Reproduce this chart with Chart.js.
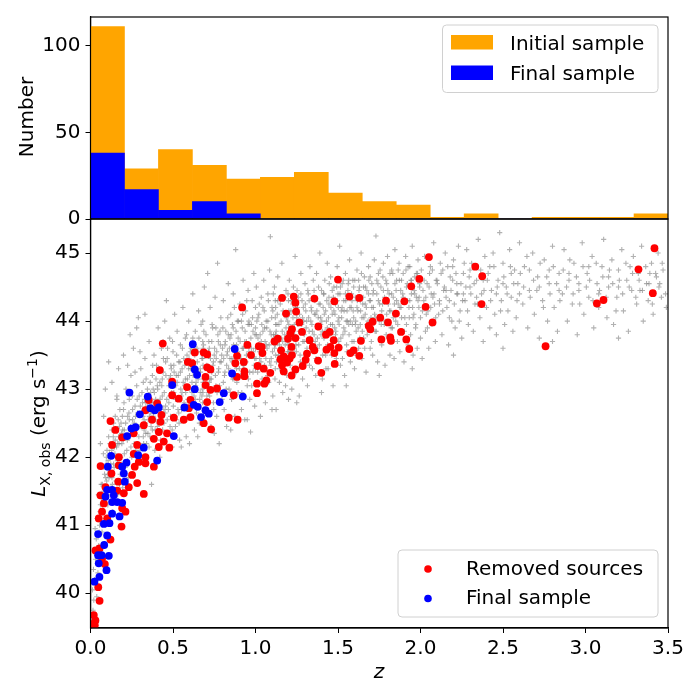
<!DOCTYPE html>
<html><head><meta charset="utf-8">
<script src="https://cdn.jsdelivr.net/npm/chart.js@4/dist/chart.umd.min.js"></script>
<style>
html,body{margin:0;padding:0;background:#fff;}
#wrap{position:relative;width:700px;height:700px;}
canvas{position:absolute;left:0;top:0;}
</style></head><body>
<div id="wrap"><canvas id="top" width="700" height="700"></canvas><canvas id="bot" width="700" height="700"></canvas></div>
<script>
// ---------- DATA ----------
const binLabels = ["0.10","0.31","0.51","0.72","0.93","1.13","1.34","1.54","1.75","1.96","2.16","2.37","2.57","2.78","2.99","3.19","3.40"];
const initialCounts = [111,29,40,31,23,24,27,15,10,8,1,3,0,1,1,1,3];
const finalCounts = [38,17,5,10,3,0,0,0,0,0,0,0,0,0,0,0,0];
const histTicks = [0,50,100];
const xTicks = [0,0.5,1,1.5,2,2.5,3,3.5];
const xTickLabels = ["0.0","0.5","1.0","1.5","2.0","2.5","3.0","3.5"];
const yTicks = [40,41,42,43,44,45];
const yTickLabels = ["40","41","42","43","44","45"];

// grey background sample: outer envelope
const allPtsOuter = [
[0.01,39.62],[0.015,39.75],[0.02,39.9],[0.012,40.05],[0.025,40.2],[0.018,40.35],[0.03,40.5],[0.022,40.62],[0.035,40.8],[0.028,40.95],[0.04,41.1],[0.045,40.3],[0.05,40.7],[0.055,41.0],[0.06,41.3],[0.048,41.45],[0.065,41.6],[0.07,40.9],[0.075,41.2],[0.08,41.5],[0.085,41.75],[0.09,41.1],[0.095,41.9],[0.1,42.1],[0.058,40.45],[0.038,39.95],[0.068,41.85],[0.078,42.05],[0.088,41.4],[0.098,41.65],
[0.105,41.3],[0.11,42.3],[0.115,41.8],[0.12,42.0],[0.125,41.55],[0.13,42.4],[0.135,41.2],[0.14,41.9],[0.145,42.15],[0.15,42.6],[0.155,41.65],[0.16,42.85],[0.165,41.45],[0.17,42.3],[0.175,42.0],[0.18,41.75],[0.185,42.5],[0.19,42.2],[0.195,41.55],[0.2,42.7],[0.11,43.4],[0.16,42.9],[0.12,41.05],[0.14,42.5],[0.175,42.45],[0.19,41.9],[0.13,41.7],[0.15,42.25],
[0.205,42.4],[0.21,41.85],[0.215,43.0],[0.22,42.1],[0.225,42.6],[0.23,41.7],[0.235,42.85],[0.24,42.3],[0.245,43.2],[0.25,42.0],[0.255,42.55],[0.26,43.6],[0.265,42.2],[0.27,42.75],[0.275,41.9],[0.28,43.05],[0.285,42.45],[0.29,44.05],[0.295,42.9],[0.3,42.1],[0.305,43.3],[0.31,42.65],[0.315,41.95],[0.32,43.1],[0.325,42.4],[0.33,43.45],[0.335,42.8],[0.34,42.2],[0.345,43.0],[0.35,42.55],[0.225,43.35],[0.27,43.25],[0.3,43.55],[0.32,42.3],
[0.355,43.7],[0.36,42.3],[0.365,42.95],[0.37,41.6],[0.375,43.2],[0.38,42.6],[0.385,43.5],[0.39,42.1],[0.395,42.85],[0.4,43.35],[0.405,42.45],[0.41,43.9],[0.415,42.7],[0.42,43.1],[0.425,42.25],[0.43,43.6],[0.435,42.9],[0.44,43.25],[0.445,42.5],[0.45,44.0],[0.455,42.75],[0.46,44.3],[0.465,43.45],[0.47,42.35],[0.475,43.05],[0.48,43.75],[0.485,42.6],[0.49,43.3],[0.495,42.15],[0.5,43.55],[0.505,42.95],[0.51,44.1],[0.515,42.45],[0.52,43.2],[0.525,43.85],[0.53,42.7],[0.535,43.4],[0.54,42.25],[0.545,43.65],[0.55,42.9],[0.38,43.0],[0.42,42.0],[0.44,43.7],[0.48,42.9],[0.52,42.55],[0.5,43.1],
[0.555,43.3],[0.56,44.2],[0.565,42.55],[0.57,43.05],[0.575,43.75],[0.58,42.3],[0.585,43.5],[0.59,42.85],[0.595,44.0],[0.6,43.2],[0.605,42.6],[0.61,43.6],[0.615,42.95],[0.62,44.4],[0.625,43.4],[0.63,42.4],[0.635,43.85],[0.64,43.1],[0.645,42.75],[0.65,43.55],[0.655,44.15],[0.66,42.5],[0.665,43.3],[0.67,43.95],[0.675,42.9],[0.68,43.45],[0.68,43.7],[0.68,44.0],[0.68,42.8],[0.685,43.15],[0.69,44.5],[0.695,42.65],[0.7,43.8],[0.705,43.35],[0.71,44.7],[0.715,42.95],[0.72,43.6],[0.725,44.2],[0.73,42.45],[0.735,43.25],[0.74,43.9],[0.745,42.8],[0.75,43.5],[0.755,44.35],[0.76,43.05],[0.765,42.6],[0.77,44.85],[0.775,43.7],[0.78,42.2],[0.785,43.4],[0.79,44.05],[0.795,42.95],[0.8,43.6],[0.6,42.2],[0.62,43.75],[0.72,43.1],[0.76,43.9],
[0.805,44.3],[0.81,42.7],[0.815,43.25],[0.82,43.85],[0.825,42.45],[0.83,43.55],[0.835,44.55],[0.84,43.0],[0.845,43.75],[0.85,44.1],[0.855,42.85],[0.86,43.4],[0.865,44.4],[0.87,43.15],[0.875,42.6],[0.88,45.05],[0.885,43.65],[0.89,44.0],[0.895,42.95],[0.9,43.5],[0.905,44.25],[0.91,43.2],[0.915,42.7],[0.92,43.9],[0.925,44.6],[0.93,43.35],[0.935,42.55],[0.94,44.15],[0.945,43.7],[0.95,43.05],[0.955,44.45],[0.96,43.55],[0.965,42.85],[0.97,42.37],[0.975,43.95],[0.98,44.3],[0.985,43.25],[0.99,44.7],[0.995,42.75],[1.0,43.6],[1.0,43.9],[1.0,44.2],[1.0,43.3],[1.005,44.5],[1.01,42.95],[1.015,43.75],[1.02,44.1],[1.025,43.45],[1.03,42.6],[1.035,44.35],[1.04,43.15],[1.045,43.85],[1.05,44.6],[0.86,43.95],[0.92,43.6],[0.96,44.0],
[1.055,43.35],[1.06,42.8],[1.065,44.0],[1.07,43.6],[1.075,44.4],[1.08,43.1],[1.085,44.75],[1.09,45.24],[1.095,43.45],[1.1,44.2],[1.105,42.9],[1.11,43.8],[1.115,44.5],[1.12,43.3],[1.12,43.65],[1.12,44.05],[1.12,44.3],[1.125,42.7],[1.13,43.95],[1.135,44.65],[1.14,43.5],[1.145,43.1],[1.15,44.25],[1.155,43.75],[1.16,44.85],[1.165,42.95],[1.17,43.4],[1.175,44.1],[1.18,43.65],[1.185,44.45],[1.19,43.2],[1.195,44.0],[1.2,43.55],[1.2,43.85],[1.2,44.3],[1.2,42.85],[1.205,44.6],[1.21,43.35],[1.215,44.15],[1.22,43.0],[1.225,43.9],[1.23,44.5],[1.235,43.6],[1.24,44.95],[1.245,43.25],[1.25,44.05],[1.255,43.75],[1.26,44.35],[1.265,42.9],[1.27,43.5],[1.275,44.7],[1.28,43.95],[1.285,43.15],[1.29,44.2],[1.295,43.7],[1.3,44.55],[1.305,43.4],[1.31,44.0],[1.315,43.05],[1.32,44.4],[1.325,43.85],[1.33,44.8],[1.335,43.55],[1.34,44.15],[1.345,43.3],[1.35,44.6],
[1.355,43.8],[1.36,44.3],[1.365,43.2],[1.37,44.7],[1.375,43.6],[1.38,44.05],[1.385,43.4],[1.39,45.0],[1.395,43.95],[1.4,44.45],[1.405,43.15],[1.41,44.2],[1.415,43.75],[1.42,44.6],[1.425,43.5],[1.43,44.0],[1.435,44.85],[1.44,43.3],[1.445,44.35],[1.45,43.85],[1.455,44.65],[1.46,43.6],[1.465,44.1],[1.47,43.05],[1.475,44.5],[1.48,43.9],[1.485,44.25],[1.49,43.45],[1.495,44.8],[1.5,44.0],[1.5,44.4],[1.505,43.7],[1.51,45.1],[1.515,43.35],[1.52,44.15],[1.525,44.55],[1.53,43.8],[1.535,44.3],[1.54,43.2],[1.545,44.7],[1.55,44.0],[1.555,43.55],[1.56,44.45],[1.565,43.95],[1.57,44.9],[1.575,43.4],[1.58,44.2],[1.585,43.7],[1.59,44.6],[1.595,44.05],[1.6,43.3],[1.605,44.35],[1.61,43.85],[1.615,44.75],[1.62,44.15],[1.625,43.6],[1.63,44.5],[1.635,43.95],[1.64,45.0],[1.645,43.45],[1.65,44.25],[1.655,43.75],[1.66,44.65],[1.665,44.1],[1.67,43.25],[1.675,44.45],[1.68,43.9],[1.685,44.8],[1.69,44.3],[1.695,43.6],[1.7,44.05],
[1.705,44.55],[1.71,43.5],[1.715,44.2],[1.72,44.9],[1.725,43.85],[1.73,45.25],[1.735,44.4],[1.74,43.4],[1.745,44.7],[1.75,44.0],[1.76,44.5],[1.765,43.65],[1.77,44.25],[1.775,44.85],[1.78,43.95],[1.785,43.35],[1.79,44.6],[1.795,44.1],[1.8,44.95],[1.805,43.75],[1.81,44.4],[1.815,43.5],[1.82,44.15],[1.825,44.75],[1.83,43.9],[1.835,44.35],[1.84,43.45],[1.845,45.05],[1.85,44.0],[1.855,44.6],[1.86,43.7],[1.865,44.25],[1.87,44.85],[1.875,43.55],[1.88,44.45],[1.885,44.05],[1.89,43.85],[1.895,44.7],[1.9,43.4],[1.905,44.3],[1.91,44.95],[1.915,43.95],[1.92,44.55],[1.925,43.65],[1.93,44.2],[1.935,44.8],[1.94,43.8],[1.945,44.4],[1.95,45.1],[1.955,43.5],[1.96,44.1],[1.965,44.65],[1.97,43.9],[1.975,44.35],[1.98,43.6],[1.985,44.9],[1.99,44.2],[1.995,44.5],[2.0,43.75],[2.0,44.05],[2.005,44.75],[2.01,43.45],[2.02,44.3],[2.025,44.95],[2.03,43.85],[2.04,44.55],[2.045,44.15],[2.05,43.6],[2.06,44.8],[2.065,44.4],[2.07,43.95],[2.08,45.15],[2.085,44.25],[2.09,43.7],[2.1,44.6],
[2.11,44.1],[2.12,44.85],[2.13,43.8],[2.14,44.45],[2.15,45.0],[2.16,44.2],[2.17,43.65],[2.18,44.65],[2.19,44.0],[2.2,44.9],[2.21,43.9],[2.22,44.4],[2.23,45.1],[2.24,44.15],[2.25,43.75],[2.26,44.7],[2.27,44.3],[2.28,45.05],[2.29,43.95],[2.3,44.5],[2.31,44.85],[2.32,43.85],[2.33,44.25],[2.34,44.6],[2.35,45.2],[2.36,44.05],[2.37,44.4],[2.38,43.7],[2.39,44.95],[2.4,44.2],[2.41,44.7],[2.42,43.9],[2.43,44.45],[2.44,45.0],[2.45,44.1],[2.46,43.8],[2.47,44.6],[2.48,45.3],[2.49,44.3],[2.5,44.85],[2.51,43.95],[2.52,44.5],[2.53,44.15],[2.54,45.05],[2.55,44.35],[2.56,43.85],[2.57,44.75],[2.58,44.05],[2.59,44.55],[2.6,45.15],
[2.62,44.25],[2.63,44.8],[2.65,43.9],[2.66,44.45],[2.68,45.0],[2.69,44.1],[2.71,44.65],[2.72,43.75],[2.74,44.3],[2.75,44.9],[2.77,44.0],[2.78,44.55],[2.8,45.1],[2.81,44.2],[2.83,43.85],[2.84,44.7],[2.86,44.4],[2.87,45.05],[2.89,44.0],[2.9,44.6],[2.92,44.25],[2.93,44.85],[2.95,43.8],[2.96,44.45],[2.98,45.15],[2.99,44.1],[3.01,44.7],[3.02,44.35],[3.04,44.95],[3.05,43.9],[3.07,44.55],[3.08,44.2],[3.1,44.8],[3.11,45.2],[3.13,44.05],[3.14,44.5],[3.16,44.9],[3.17,43.95],[3.19,44.35],[3.2,44.75],[3.22,45.05],[3.23,44.15],[3.25,44.6],[3.26,43.85],[3.28,44.45],[3.29,44.95],[3.31,44.25],[3.32,44.7],[3.34,45.1],[3.35,44.0],[3.37,44.55],[3.38,44.3],[3.4,44.85],[3.41,44.1],[3.43,44.65],[3.44,45.0],[3.46,44.35],[3.47,44.75],[3.49,44.2],
[0.06,42.2],[0.08,42.6],[0.09,43.0],[0.13,43.1],[0.17,43.3],[0.2,43.5],[0.24,43.8],[0.28,43.9],[0.33,44.1],[0.55,42.15],[0.65,42.3],[0.75,42.35],[0.85,42.4],[0.95,42.55],[1.1,42.7],[1.25,42.8],[1.4,42.95],[1.55,43.05],[1.75,43.2],[1.95,43.3],[2.2,43.5],[2.5,43.6],[2.8,43.7],[3.2,43.75]
];
// grey background sample: dense core of the cloud
const allPtsCore = [
[0.052,40.9],[0.058,41.2],[0.063,41.05],[0.067,41.4],[0.072,41.6],[0.076,41.3],[0.081,41.85],[0.086,41.55],[0.092,41.7],[0.096,42.0],[0.102,41.45],[0.107,41.95],[0.112,41.7],[0.118,42.2],[0.123,41.9],[0.128,42.1],[0.133,41.6],[0.138,42.3],[0.143,41.85],[0.148,42.05],[0.153,42.4],[0.158,42.15],[0.163,41.95],[0.168,42.55],[0.173,42.2],[0.178,42.7],[0.183,42.0],[0.188,42.35],[0.193,42.6],[0.198,42.25],[0.203,42.8],[0.213,42.5],[0.223,42.25],[0.233,42.65],[0.243,42.45],[0.253,42.9],[0.263,42.35],[0.273,42.6],[0.283,42.85],[0.293,42.3],
[0.302,42.75],[0.307,42.45],[0.312,42.95],[0.318,42.6],[0.322,42.2],[0.327,42.85],[0.332,42.5],[0.337,43.15],[0.342,42.7],[0.348,42.35],[0.352,42.9],[0.357,42.6],[0.362,43.1],[0.367,42.45],[0.372,42.8],[0.377,43.35],[0.382,42.65],[0.387,42.95],[0.392,42.4],[0.397,43.15],[0.402,42.75],[0.407,43.0],[0.412,42.5],[0.417,43.3],[0.422,42.85],[0.427,42.6],[0.432,43.05],[0.437,42.4],[0.442,43.45],[0.447,42.95],[0.452,42.65],[0.457,43.2],[0.462,42.85],[0.467,43.6],[0.472,42.7],[0.477,43.15],[0.482,42.45],[0.487,43.35],[0.492,42.95],[0.497,43.7],[0.502,42.75],[0.507,43.25],[0.512,42.6],[0.517,43.05],[0.522,43.5],[0.527,42.85],[0.532,43.2],[0.537,42.5],[0.542,43.4],[0.547,43.0],[0.552,42.7],[0.557,43.6],[0.562,43.1],[0.567,42.8],[0.572,43.35],[0.577,42.95],[0.582,43.8],[0.587,43.15],[0.592,42.6],[0.597,43.45],[0.602,43.0],[0.607,43.3],[0.612,42.75],[0.617,43.65],[0.622,43.2],[0.627,42.9],[0.632,43.5],[0.637,43.05],[0.642,42.65],[0.647,43.4],[0.652,43.15],[0.657,43.75],[0.662,42.85],[0.667,43.25],[0.672,43.55],[0.677,43.0],[0.682,43.35],[0.682,43.1],[0.682,43.6],[0.682,42.95],[0.687,43.85],[0.692,43.2],[0.697,42.8],[0.702,43.5],[0.707,43.05],[0.712,43.3],[0.717,43.7],[0.722,42.9],[0.727,43.45],[0.732,43.15],[0.737,43.95],[0.742,43.35],[0.747,42.7],[0.752,43.6],[0.757,43.2],[0.762,43.45],[0.767,42.95],[0.772,43.8],[0.777,43.3],[0.782,43.05],[0.787,43.65],[0.792,43.4],[0.797,42.85],[0.802,43.9],[0.807,43.45],[0.812,43.2],[0.817,43.7],[0.822,43.0],[0.827,43.5],[0.832,44.05],[0.837,43.3],[0.842,43.6],[0.847,42.95],[0.852,43.8],[0.857,43.45],[0.862,43.15],[0.867,43.65],[0.872,44.2],[0.877,43.35],[0.882,43.85],[0.887,43.1],[0.892,43.55],[0.897,44.0],[0.902,43.3],[0.907,43.7],[0.912,43.45],[0.917,42.95],[0.922,44.1],[0.927,43.6],[0.932,43.2],[0.937,43.85],[0.942,43.4],[0.947,44.3],[0.952,43.65],[0.957,43.15],[0.962,43.95],[0.967,43.5],[0.972,43.75],[0.977,43.05],[0.982,44.05],[0.987,43.55],[0.992,43.35],[0.997,43.8],
[1.003,43.45],[1.008,44.0],[1.013,43.25],[1.018,43.65],[1.023,44.25],[1.028,43.8],[1.033,43.4],[1.038,43.95],[1.043,43.6],[1.048,43.1],[1.053,44.15],[1.058,43.7],[1.063,43.45],[1.068,43.9],[1.073,43.2],[1.078,44.3],[1.083,43.65],[1.088,43.85],[1.093,43.35],[1.098,44.05],[1.103,43.55],[1.108,44.4],[1.113,43.75],[1.118,43.15],[1.122,43.95],[1.122,43.5],[1.122,44.2],[1.122,43.8],[1.127,43.4],[1.132,44.1],[1.137,43.7],[1.142,43.95],[1.147,43.3],[1.152,44.35],[1.157,43.6],[1.162,43.85],[1.167,44.15],[1.172,43.5],[1.177,43.8],[1.182,43.05],[1.187,44.05],[1.192,43.7],[1.197,44.4],[1.202,43.95],[1.202,43.65],[1.202,44.15],[1.207,43.45],[1.212,43.85],[1.217,44.3],[1.222,43.6],[1.227,44.05],[1.232,43.3],[1.237,43.8],[1.242,44.2],[1.247,43.55],[1.252,44.45],[1.257,43.95],[1.262,43.65],[1.267,44.1],[1.272,43.4],[1.277,43.85],[1.282,44.3],[1.287,43.7],[1.292,44.0],[1.297,43.45],[1.302,44.25],[1.307,43.9],[1.312,43.6],[1.317,44.45],[1.322,44.05],[1.327,43.35],[1.332,43.75],[1.337,44.2],[1.342,43.95],[1.347,43.55],[1.352,44.35],[1.357,44.1],[1.362,43.7],[1.367,43.45],[1.372,44.15],[1.377,43.9],[1.382,44.5],[1.387,43.65],[1.392,44.25],[1.397,43.8],[1.402,44.0],[1.407,43.5],[1.412,44.4],[1.417,44.1],[1.422,43.85],[1.427,43.3],[1.432,44.3],[1.437,43.65],[1.442,44.05],[1.447,44.55],[1.452,43.8],[1.457,44.2],[1.462,43.5],[1.467,43.95],[1.472,44.35],[1.477,43.7],[1.482,44.1],[1.487,43.85],[1.492,44.5],[1.497,43.6],[1.502,44.2],[1.507,43.95],[1.512,44.4],[1.517,43.75],[1.522,44.05],[1.527,43.45],[1.532,44.6],[1.537,44.15],[1.542,43.85],[1.547,44.3],[1.552,43.65],[1.557,44.0],[1.562,44.55],[1.567,43.8],[1.572,44.2],[1.577,43.55],[1.582,44.4],[1.587,43.95],[1.592,44.15],[1.597,43.7],[1.602,44.6],[1.607,44.0],[1.612,43.5],[1.617,44.3],[1.622,43.9],[1.627,44.45],[1.632,43.75],[1.637,44.15],[1.642,44.7],[1.647,43.85],[1.652,44.35],[1.657,44.05],[1.662,43.6],[1.667,44.5],[1.672,44.2],[1.677,43.8],[1.682,44.0],[1.687,44.6],[1.692,43.95],[1.697,44.3],[1.702,43.7],[1.712,44.4],[1.722,44.1],[1.732,43.85],[1.742,44.55],[1.752,44.25],[1.762,43.95],[1.772,44.65],[1.782,44.35],[1.792,43.8],[1.802,44.45],[1.812,44.15],[1.822,43.9],[1.832,44.7],[1.842,44.25],[1.852,44.45],[1.862,43.95],[1.872,44.6],[1.882,44.2],[1.892,44.4],[1.902,43.85],[1.912,44.75],[1.922,44.3],[1.932,44.05],[1.942,44.6],[1.952,44.2],[1.962,44.45],[1.972,43.95],[1.982,44.7],[1.992,44.35],
[2.012,44.15],[2.022,44.6],[2.032,44.35],[2.042,43.9],[2.052,44.5],[2.062,44.2],[2.072,44.75],[2.082,44.4],[2.092,44.05],[2.102,44.55],[2.115,44.3],[2.125,44.7],[2.135,44.15],[2.145,44.5],[2.155,44.35],[2.165,44.8],[2.175,44.05],[2.185,44.45],[2.195,44.6],[2.205,44.25],[2.215,44.7],[2.225,44.4],[2.235,44.0],[2.245,44.55],[2.255,44.3],[2.265,44.85],[2.275,44.5],[2.285,44.15],[2.295,44.65],[2.305,44.4],[2.325,44.55],[2.345,44.25],[2.365,44.75],[2.385,44.45],[2.405,44.6],[2.425,44.3],[2.445,44.8],[2.465,44.5],[2.485,44.15],[2.505,44.65],[2.525,44.4],[2.545,44.8],[2.565,44.55],[2.585,44.3],[2.605,44.7],[2.625,44.5],[2.645,44.95],[2.665,44.35],[2.685,44.6],[2.705,44.45],[2.725,44.85],[2.745,44.2],[2.765,44.65],[2.785,44.4],[2.805,44.8],[2.825,44.55],[2.845,44.3],[2.865,44.75],[2.885,44.5],[2.905,44.9],[2.925,44.4],[2.945,44.65],[2.965,44.25],[2.985,44.8],[3.005,44.5],[3.025,44.6],[3.045,44.3],[3.065,44.85],[3.085,44.45],[3.105,44.65],[3.125,44.35],[3.145,44.75],[3.165,44.55],[3.185,44.15],[3.205,44.6],[3.225,44.4],[3.245,44.85],[3.265,44.5],[3.285,44.7],[3.305,44.35],[3.325,44.6],[3.345,44.45],[3.365,44.8],[3.385,44.55],[3.405,44.25],[3.425,44.7],[3.445,44.5],[3.465,44.85],[3.485,44.4]
];
// grey background sample: innermost band
const allPtsInner = [
[0.105,41.75],[0.115,42.05],[0.125,41.35],[0.135,42.15],[0.145,41.5],[0.155,42.0],[0.165,42.2],[0.175,41.6],[0.185,41.85],[0.195,42.4],[0.205,42.05],[0.215,42.3],[0.225,41.95],[0.235,42.55],[0.245,42.15],[0.255,42.7],[0.265,42.5],[0.275,42.1],[0.285,42.65],[0.295,42.45],[0.305,42.0],[0.315,42.8],[0.325,42.55],[0.335,42.35],[0.345,42.75],[0.355,42.15],[0.365,42.65],[0.375,42.4],[0.385,42.8],[0.395,42.55],[0.405,43.05],[0.415,42.35],[0.425,42.75],[0.435,43.15],[0.445,42.7],[0.455,43.4],[0.465,42.55],[0.475,42.8],[0.485,43.2],[0.495,42.4],[0.505,43.35],[0.515,42.85],[0.525,43.1],[0.535,42.65],[0.545,43.25],
[0.555,42.95],[0.565,43.45],[0.575,43.15],[0.585,42.75],[0.595,43.3],[0.605,43.55],[0.615,43.1],[0.625,43.35],[0.635,42.85],[0.645,43.6],[0.655,43.25],[0.665,42.95],[0.675,43.45],[0.685,43.65],[0.695,43.3],[0.705,42.9],[0.715,43.55],[0.725,43.15],[0.735,43.7],[0.745,43.4],[0.755,43.0],[0.765,43.55],[0.775,43.25],[0.785,43.85],[0.795,43.5],[0.805,43.1],[0.815,43.65],[0.825,43.35],[0.835,43.8],[0.845,43.45],[0.855,43.2],[0.865,43.9],[0.875,43.55],[0.885,43.3],[0.895,43.75],[0.905,43.45],[0.915,44.0],[0.925,43.35],[0.935,43.7],[0.945,43.5],[0.955,43.95],[0.965,43.25],[0.975,43.6],[0.985,43.85],[0.995,43.45],
[1.005,43.8],[1.015,44.05],[1.025,43.55],[1.035,43.7],[1.045,44.2],[1.055,43.9],[1.065,43.65],[1.075,44.0],[1.085,43.4],[1.095,43.8],[1.105,44.15],[1.115,43.6],[1.125,43.85],[1.135,44.3],[1.145,43.65],[1.155,44.0],[1.165,43.7],[1.175,44.35],[1.185,43.9],[1.195,43.55],[1.205,44.1],[1.215,43.75],[1.225,44.25],[1.235,43.95],[1.245,43.65],[1.255,44.2],[1.265,43.85],[1.275,44.4],[1.285,44.05],[1.295,43.8],[1.305,44.15],[1.315,43.7],[1.325,44.3],[1.335,44.0],[1.345,43.85],[1.355,44.45],[1.365,44.1],[1.375,43.75],[1.385,44.25],[1.395,44.05],[1.405,43.85],[1.415,44.4],[1.425,44.15],[1.435,43.9],[1.445,44.25],[1.455,43.95],[1.465,44.45],[1.475,44.15],[1.485,43.8],[1.495,44.3],
[1.505,44.05],[1.515,44.5],[1.525,44.2],[1.535,43.9],[1.545,44.4],[1.555,44.15],[1.565,44.6],[1.575,44.0],[1.585,44.3],[1.595,44.5],[1.605,43.95],[1.615,44.2],[1.625,44.6],[1.635,44.3],[1.645,44.05],[1.655,44.5],[1.665,44.25],[1.675,43.95],[1.685,44.4],[1.695,44.65],[1.705,44.2],[1.715,44.45],[1.725,44.05],[1.735,44.6],[1.745,44.3],[1.755,44.75],[1.765,44.15],[1.775,44.45],[1.785,44.0],[1.795,44.55],[1.805,44.25],[1.815,44.7],[1.825,44.4],[1.835,44.05],[1.845,44.55],[1.855,44.3],[1.865,44.75],[1.875,44.2],[1.885,44.6],[1.895,44.35],[1.905,44.05],[1.915,44.5],[1.925,44.8],[1.935,44.3],[1.945,44.6],[1.955,44.05],[1.965,44.4],[1.975,44.7],[1.985,44.3],[1.995,44.55],[2.015,44.45],[2.035,44.1],[2.055,44.7],[2.075,44.35],[2.095,44.6],[2.115,44.25],[2.135,44.75],[2.155,44.45],[2.175,44.3],[2.195,44.8],
[2.22,44.55],[2.26,44.4],[2.3,44.75],[2.34,44.35],[2.38,44.6],[2.42,44.8],[2.46,44.4],[2.5,44.55],[2.55,44.7],[2.6,44.4],[2.66,44.75],[2.72,44.5],[2.78,44.75],[2.84,44.45],[2.9,44.7],[2.96,44.55],[3.02,44.8],[3.08,44.4],[3.14,44.65],[3.2,44.5],[3.27,44.8],[3.33,44.45],[3.39,44.7],[3.45,44.55]
];

const removedPts = [
[0.171,41.88],[0.268,41.86],[0.293,41.93],[0.333,41.91],[0.127,41.76],[0.252,41.74],[0.283,41.62],[0.168,41.64],[0.091,41.56],[0.323,41.46],[0.060,41.44],[0.081,41.32],[0.070,41.20],[0.212,41.20],[0.101,41.10],[0.188,40.98],[0.121,40.79],[0.030,40.63],[0.055,40.66],[0.087,40.43],[0.070,40.51],[0.047,40.09],[0.055,39.89],[0.020,39.68],[0.030,39.60],[0.014,39.55],[0.026,39.53],[0.162,41.51],[0.192,41.25],[0.050,41.10],[0.202,41.47],[0.232,41.56],
[0.438,43.67],[0.632,43.54],[0.686,43.54],[0.707,43.51],[0.888,43.49],[0.590,43.40],[0.616,43.38],[0.878,43.38],[0.420,43.28],[0.707,43.32],[0.727,43.29],[0.888,43.18],[0.697,43.18],[0.495,43.11],[0.585,43.03],[0.697,43.06],[0.727,42.99],[0.767,43.01],[0.868,42.91],[0.353,42.84],[0.404,42.79],[0.495,42.91],[0.535,42.86],[0.606,42.84],[0.596,42.72],[0.707,42.81],[0.333,42.69],[0.430,42.62],[0.373,42.55],[0.505,42.58],[0.565,42.55],[0.606,42.59],[0.686,42.50],[0.731,42.41],[0.838,42.58],[0.892,42.55],[0.121,42.53],[0.151,42.40],[0.192,42.29],[0.262,42.35],[0.323,42.47],[0.424,42.52],[0.414,42.37],[0.464,42.35],[0.444,42.23],[0.478,42.14],[0.384,42.27],[0.131,42.18],[0.283,42.18],[0.414,42.15],[0.262,42.05],[0.333,42.00],[0.172,42.00],[0.384,41.86],[0.061,41.87],
[2.051,44.94],[1.500,44.61],[1.993,44.62],[1.944,44.51],[1.161,44.34],[1.232,44.36],[1.242,44.27],[1.357,44.33],[1.478,44.29],[1.569,44.36],[1.629,44.34],[1.791,44.30],[1.902,44.29],[2.031,44.21],[0.919,44.20],[1.185,44.11],[1.246,44.14],[1.851,44.11],[1.756,44.05],[2.073,43.98],[1.266,43.98],[1.803,43.98],[1.710,43.99],[1.686,43.93],[1.381,43.92],[1.696,43.88],[1.882,43.84],[1.221,43.88],[1.211,43.82],[1.282,43.84],[1.242,43.75],[1.197,43.74],[1.427,43.80],[1.450,43.84],[1.135,43.74],[1.115,43.70],[1.328,43.72],[1.474,43.72],[1.817,43.76],[1.821,43.71],[1.763,43.73],[1.914,43.73],[1.639,43.71],[0.951,43.65],[1.020,43.63],[1.038,43.62],[1.218,43.62],[1.347,43.62],[1.357,43.57],[1.430,43.58],[1.454,43.62],[1.504,43.61],[1.478,43.53],[1.932,43.59],[1.595,43.57],[1.575,43.53],[1.042,43.53],[1.155,43.57],[1.171,43.48],[1.221,43.50],[1.207,43.45],[1.312,43.52],[0.973,43.50],[1.629,43.49],[1.151,43.44],[0.929,43.40],[1.379,43.42],[1.304,43.43],[1.161,43.35],[1.191,43.39],[1.480,43.37],[1.286,43.34],[1.013,43.34],[1.050,43.30],[1.171,43.26],[1.242,43.29],[0.933,43.26],[1.399,43.24],[1.090,43.24],[0.933,43.19],[1.219,43.20],[1.066,43.13],[1.054,43.08],[1.009,43.08],[1.009,42.94],
[2.332,44.80],[2.374,44.66],[2.370,44.25],[2.758,43.63],[3.069,44.26],[3.109,44.31],[3.321,44.76],[3.418,45.07],[3.408,44.41]
];

const finalPts = [
[0.202,41.76],[0.208,41.64],[0.101,41.52],[0.131,41.52],[0.091,41.42],[0.141,41.44],[0.131,41.34],[0.162,41.34],[0.192,41.33],[0.131,41.17],[0.176,41.13],[0.081,41.02],[0.115,41.03],[0.046,40.87],[0.101,40.85],[0.083,40.71],[0.046,40.56],[0.067,40.56],[0.111,40.55],[0.050,40.44],[0.097,40.34],[0.054,40.24],[0.024,40.17],
[0.620,43.66],[0.874,43.59],[0.632,43.29],[0.646,43.21],[0.858,43.23],[0.495,43.06],[0.632,43.00],[0.808,42.94],[0.923,42.89],[0.236,42.95],[0.347,42.89],[0.569,42.73],[0.626,42.77],[0.650,42.74],[0.783,42.81],[0.697,42.69],[0.717,42.64],[0.670,42.59],[0.363,42.72],[0.390,42.69],[0.414,42.73],[0.299,42.63],[0.222,42.31],[0.248,42.42],[0.273,42.44],[0.505,42.31],[0.323,42.14],[0.289,42.03],[0.125,42.02],[0.404,41.95],[0.105,41.86],[0.218,41.92],[0.192,41.86]
];

// ---------- STYLE / LAYOUT ----------
const FONT = "DejaVu Sans";
Chart.defaults.font.family = FONT;
Chart.defaults.font.size = 20;
Chart.defaults.color = "#000";
const AX_LEFT = 90.5, AX_RIGHT = 668, TOP_T = 15, MID = 219, BOT_B = 628;

function frame(chart){
  const a = chart.chartArea, c = chart.ctx;
  c.save(); c.strokeStyle = "#000"; c.lineWidth = 1.2;
  c.strokeRect(a.left, a.top, a.right - a.left, a.bottom - a.top);
  c.restore();
}
function legendBox(c, x0, y0, x1, y1){
  const r = 4;
  c.save();
  c.beginPath();
  c.moveTo(x0 + r, y0); c.lineTo(x1 - r, y0); c.quadraticCurveTo(x1, y0, x1, y0 + r);
  c.lineTo(x1, y1 - r); c.quadraticCurveTo(x1, y1, x1 - r, y1);
  c.lineTo(x0 + r, y1); c.quadraticCurveTo(x0, y1, x0, y1 - r);
  c.lineTo(x0, y0 + r); c.quadraticCurveTo(x0, y0, x0 + r, y0);
  c.closePath();
  c.fillStyle = "rgba(255,255,255,0.8)"; c.fill();
  c.strokeStyle = "#d0d0d0"; c.lineWidth = 1; c.stroke();
  c.restore();
}
function richRotated(c, segs, bx, cy){
  c.save();
  c.translate(bx, cy); c.rotate(-Math.PI / 2);
  let total = 0;
  segs.forEach(s => { c.font = s.font; s.w = c.measureText(s.t).width; total += s.w; });
  let cur = -total / 2;
  c.fillStyle = "#000"; c.textBaseline = "alphabetic"; c.textAlign = "left";
  segs.forEach(s => { c.font = s.font; c.fillText(s.t, cur, s.dy || 0); cur += s.w; });
  c.restore();
}

const topDecor = {
  id: "topDecor",
  afterDraw(chart){
    frame(chart);
    const c = chart.ctx;
    richRotated(c, [{t: "Number", font: "20px " + FONT}], 33, (TOP_T + MID) / 2);
    legendBox(c, 442.5, 25, 658, 92.5);
    const ds = chart.data.datasets;
    const items = [ds[1], ds[0]];
    const basel = [49.5, 80];
    items.forEach((d, i) => {
      c.fillStyle = d.backgroundColor;
      c.fillRect(451, basel[i] - 14.5, 42, 14.5);
      c.fillStyle = "#000"; c.font = "20px " + FONT; c.textBaseline = "alphabetic"; c.textAlign = "left";
      c.fillText(d.label, 510, basel[i]);
    });
  }
};

const botDecor = {
  id: "botDecor",
  afterDraw(chart){
    frame(chart);
    const c = chart.ctx;
    richRotated(c, [
      {t: "L", font: "italic 20px " + FONT},
      {t: "X, obs", font: "14px " + FONT, dy: 4.5},
      {t: " (erg s", font: "20px " + FONT},
      {t: "\u22121", font: "14px " + FONT, dy: -8},
      {t: ")", font: "20px " + FONT}
    ], 45, (MID + BOT_B) / 2);
    c.save();
    c.fillStyle = "#000"; c.font = "italic 20px " + FONT; c.textAlign = "center"; c.textBaseline = "alphabetic";
    c.fillText("z", 379, 678);
    c.restore();
    legendBox(c, 398, 550, 658, 617);
    const ds = chart.data.datasets;
    const items = [ds[1], ds[0]];
    const basel = [574.5, 604];
    items.forEach((d, i) => {
      c.beginPath(); c.arc(428, basel[i] - 5.5, 3.8, 0, Math.PI * 2);
      c.fillStyle = d.backgroundColor; c.fill();
      c.fillStyle = "#000"; c.font = "20px " + FONT; c.textBaseline = "alphabetic"; c.textAlign = "left";
      c.fillText(d.label, 466, basel[i]);
    });
  }
};

const tickGrid = {display: true, drawOnChartArea: false, drawTicks: true, tickLength: 5, color: "#000", lineWidth: 1};
const border = {display: true, color: "#000", width: 1.2};

// ---------- TOP: HISTOGRAM ----------
new Chart(document.getElementById("top"), {
  type: "bar",
  data: {
    labels: binLabels,
    datasets: [
      {label: "Final sample", data: finalCounts, backgroundColor: "#0000FF", order: 1, grouped: false,
       barPercentage: 1, categoryPercentage: 1, borderWidth: 0},
      {label: "Initial sample", data: initialCounts, backgroundColor: "#FFA500", order: 2, grouped: false,
       barPercentage: 1, categoryPercentage: 1, borderWidth: 0}
    ]
  },
  options: {
    responsive: false, animation: false, events: [],
    layout: {autoPadding: false, padding: {left: 0, right: 700 - AX_RIGHT, top: TOP_T, bottom: 700 - MID}},
    plugins: {legend: {display: false}, tooltip: {enabled: false}},
    scales: {
      x: {display: false, offset: true},
      y: {min: 0, max: 116.6, grid: tickGrid, border: border,
          afterFit(s){ s.width = AX_LEFT; },
          afterBuildTicks(s){ s.ticks = histTicks.map(v => ({value: v})); },
          ticks: {padding: 5, font: {size: 20}, color: "#000"}}
    }
  },
  plugins: [topDecor]
});

// ---------- BOTTOM: SCATTER ----------
const toXY = arr => arr.map(p => ({x: p[0], y: p[1]}));
const greyStyle = {pointStyle: "cross", pointRadius: 2.6, borderWidth: 1.1,
  borderColor: "rgba(125,125,125,0.6)", backgroundColor: "rgba(125,125,125,0.6)", order: 3, clip: 0};
new Chart(document.getElementById("bot"), {
  type: "scatter",
  data: {
    datasets: [
      {label: "Final sample", data: toXY(finalPts), backgroundColor: "#0000FF", borderWidth: 0,
       pointRadius: 3.9, order: 1, clip: 0},
      {label: "Removed sources", data: toXY(removedPts), backgroundColor: "#FF0000", borderWidth: 0,
       pointRadius: 3.9, order: 2, clip: 0},
      Object.assign({label: "All sources (outer)", data: toXY(allPtsOuter)}, greyStyle),
      Object.assign({label: "All sources (core)", data: toXY(allPtsCore)}, greyStyle),
      Object.assign({label: "All sources (inner)", data: toXY(allPtsInner)}, greyStyle)
    ]
  },
  options: {
    responsive: false, animation: false, events: [],
    layout: {autoPadding: false, padding: {left: 0, right: 700 - AX_RIGHT, top: MID, bottom: 0}},
    plugins: {legend: {display: false}, tooltip: {enabled: false}},
    scales: {
      x: {type: "linear", min: 0, max: 3.5, grid: tickGrid, border: border,
          afterFit(s){ s.height = 700 - BOT_B; },
          afterBuildTicks(s){ s.ticks = xTicks.map(v => ({value: v})); },
          ticks: {padding: 4, font: {size: 20}, color: "#000", maxRotation: 0,
                  callback: (v, i) => xTickLabels[i]}},
      y: {type: "linear", min: 39.49, max: 45.5, grid: tickGrid, border: border,
          afterFit(s){ s.width = AX_LEFT; },
          afterBuildTicks(s){ s.ticks = yTicks.map(v => ({value: v})); },
          ticks: {padding: 5, font: {size: 20}, color: "#000", callback: (v, i) => yTickLabels[i]}}
    }
  },
  plugins: [botDecor]
});
</script>
</body></html>
